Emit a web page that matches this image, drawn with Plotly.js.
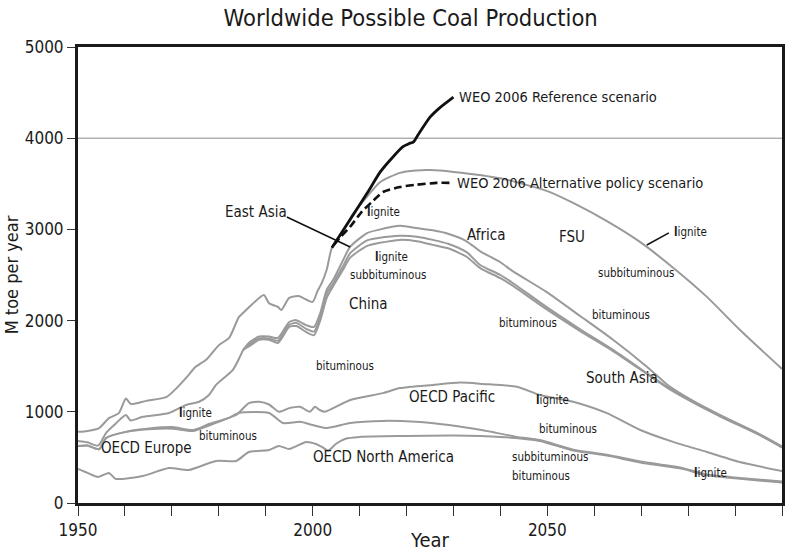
<!DOCTYPE html>
<html>
<head>
<meta charset="utf-8">
<script src="https://cdn.plot.ly/plotly-3.0.1.min.js"></script>
<style>html,body{margin:0;padding:0;background:#fff;}#chart{width:799px;height:552px;}</style>
</head>
<body>
<div id="chart"></div>
<script>
// ---- data (Mtoe per year) ----
const topYears  = [1950,1952,1954.5,1956.6,1958.7,1960.2,1961.3,1964.5,1968.8,1971,1973.5,1975,1977.3,1980,1982.2,1984.3,1985.8,1989.6,1990.7,1992.6,1993.3,1995,1997,2000,2001,2002,2003,2004.1,2006.5,2008.6,2011.6,2014.4,2018.6,2022,2025,2030,2040,2050,2055.5,2062.7,2069.8,2076.8,2084,2091,2100];
const topValues = [780,790,822,930,985,1145,1085,1120,1160,1260,1400,1490,1570,1730,1810,2040,2115,2280,2190,2150,2115,2250,2270,2205,2320,2420,2560,2800,2980,3170,3360,3520,3620,3645,3650,3630,3560,3420,3290,3090,2860,2580,2260,1900,1470];

const refYears  = [2004.1,2006.5,2009.4,2012,2014.4,2017.2,2019.3,2020.5,2021.5,2022.5,2025,2027,2030];
const refValues = [2800,2990,3220,3430,3630,3800,3910,3940,3960,4040,4230,4330,4450];

const altYears  = [2004.5,2006,2008,2010.5,2012.6,2015,2018.6,2022.2,2026.4,2030];
const altValues = [2830,2920,3030,3195,3300,3410,3465,3490,3510,3510];

const histYears  = [1950,1952,1954.3,1956,1958,1960.2,1961.2,1963.8,1969.4,1973,1975.8,1977.9,1979.5,1983,1985.2];
const histValues = [680,665,630,770,870,965,905,945,987,1075,1110,1185,1300,1460,1680];

const eastYears = [1985.2,1986.5,1988.6,1990.7,1992.6,1995,1996.5,1998.6,2000.3,2001.6,2003,2004.4,2006.5,2008,2011.6,2014,2018.6,2022.2,2025.6,2029,2032.8,2035.7,2040,2042.7,2049.8,2057,2064,2071.2,2075.5,2080.4,2087.4,2094.7,2100];
const lig1Values = [1680,1760,1825,1825,1810,1985,2005,1950,1930,2080,2340,2450,2665,2810,2960,2995,3040,3015,2990,2950,2870,2760,2640,2540,2315,2050,1790,1495,1300,1140,950,770,620];
const sub1Values = [1680,1740,1805,1805,1780,1955,1975,1910,1880,2040,2300,2410,2600,2740,2880,2905,2930,2920,2885,2840,2750,2610,2500,2410,2150,1905,1680,1425,1275,1130,945,765,615];
const bit1Values = [1680,1720,1790,1790,1755,1930,1940,1875,1840,2000,2250,2380,2560,2690,2820,2850,2885,2870,2830,2790,2700,2575,2465,2380,2125,1885,1665,1415,1265,1120,935,758,608];

const pacYears  = [1950,1952,1954.5,1956,1960.2,1966,1970.2,1974.5,1977.9,1983.7,1986.4,1988.6,1990.7,1992.8,1995,1997.3,1999.4,2000.5,2001.5,2002.6,2008,2015,2018.6,2025.6,2031.4,2036.3,2043.5,2048.4,2055.5,2062.7,2069.8,2076.8,2084,2091,2100];
const pacValues = [625,630,590,713,780,822,833,800,866,965,1095,1110,1080,1000,1040,1055,1000,1055,1020,1000,1130,1205,1260,1295,1320,1305,1275,1185,1110,985,800,670,560,450,350];

const eurYears  = [1950,1952,1954.5,1956,1960.2,1966,1970.2,1974.5,1977.9,1982,1984.3,1990.7,1993.7,1997.3,2000,2003,2008,2015,2022,2029,2036,2043.5,2048.4,2055.5,2062.7,2069.8,2078.3,2084,2091,2100];
const eurValues = [625,630,590,713,780,812,815,790,850,930,987,987,877,890,855,822,877,900,890,855,800,725,690,585,530,455,390,312,275,235];

const naYears  = [1950,1952,1954.3,1956.6,1958,1963.8,1969.4,1973.6,1979.4,1983.7,1986.4,1990.7,1992.8,1995,1998.6,2000.7,2002,2003.3,2005,2007,2010,2020,2030,2040,2048.4,2055.5,2062.7,2069.8,2078.3,2084,2091,2100];
const naValues = [373,330,285,330,265,296,384,362,461,461,559,581,625,592,669,647,614,575,650,705,725,735,740,725,680,575,520,445,380,303,265,225];

const tickYears = [1950,1960,1970,1980,1990,2000,2010,2020,2030,2040,2050,2060,2070,2080,2090,2100];
const tickText  = ['1950','','','','','2000','','','','','2050','','','','','2100'];

// ---- styling ----
const FONT = "'DejaVu Sans Condensed','Liberation Sans Narrow','Open Sans',sans-serif";
const GRAY = '#9a9a9a';
const TXT = '#1a1a1a';

function grayLine(x, y) {
  return {x: x, y: y, type: 'scatter', mode: 'lines',
          line: {color: GRAY, width: 2, shape: 'spline', smoothing: 0.6}, hoverinfo: 'skip'};
}

const traces = [
  grayLine(naYears, naValues),
  grayLine(eurYears, eurValues),
  grayLine(pacYears, pacValues),
  grayLine(histYears, histValues),
  grayLine(eastYears, bit1Values),
  grayLine(eastYears, sub1Values),
  grayLine(eastYears, lig1Values),
  grayLine(topYears, topValues),
  {x: altYears, y: altValues, type: 'scatter', mode: 'lines',
   line: {color: '#111', width: 2.6, dash: '8px,4px', shape: 'spline', smoothing: 0.6}, hoverinfo: 'skip'},
  {x: refYears, y: refValues, type: 'scatter', mode: 'lines',
   line: {color: '#111', width: 2.8, shape: 'spline', smoothing: 0.5}, hoverinfo: 'skip'}
];

function lab(text, x, y, size, anchor) {
  return {text: text, x: x, y: y, xref: 'x', yref: 'y', showarrow: false,
          xanchor: anchor || 'center', yanchor: 'middle',
          font: {family: FONT, size: size, color: TXT}};
}
const BIG = 15, SMALL = 11.5, WEO = 14.5;
const LIG = '<b>l</b>ignite';
const annotations = [
  lab('WEO 2006 Reference scenario', 2030.8, 4452, WEO, 'left'),
  lab('WEO 2006 Alternative policy scenario', 2030.3, 3509, WEO, 'left'),
  lab('East Asia', 1987.9, 3191, BIG),
  lab('China', 2012.0, 2182, BIG),
  lab('Africa', 2036.9, 2939, BIG),
  lab('FSU', 2055.3, 2917, BIG),
  lab('South Asia', 2065.9, 1371, BIG),
  lab('OECD Pacific', 2029.7, 1162, BIG),
  lab('OECD Europe', 1964.5, 603, BIG),
  lab('OECD North America', 2015.0, 504, BIG),
  lab(LIG, 2015.0, 3191, SMALL),
  lab(LIG, 2016.7, 2697, SMALL),
  lab('subbituminous', 2016.1, 2500, SMALL),
  lab(LIG, 2076.6, 2971, SMALL, 'left'),
  lab('subbituminous', 2068.9, 2522, SMALL),
  lab('bituminous', 2045.9, 1974, SMALL),
  lab('bituminous', 2065.7, 2061, SMALL),
  lab('bituminous', 2006.9, 1502, SMALL),
  lab(LIG, 1975.1, 987, SMALL),
  lab('bituminous', 1982.0, 735, SMALL),
  lab(LIG, 2051.0, 1129, SMALL),
  lab('bituminous', 2054.4, 811, SMALL),
  lab('subbituminous', 2050.6, 504, SMALL),
  lab('bituminous', 2048.7, 296, SMALL),
  lab(LIG, 2084.7, 329, SMALL)
];

const shapes = [
  {type: 'line', xref: 'paper', yref: 'y', x0: 0, x1: 1, y0: 4000, y1: 4000, line: {color: '#8a8a8a', width: 1}, layer: 'below'},
  {type: 'line', xref: 'x', yref: 'y', x0: 1994.5, y0: 3136, x1: 2008, y1: 2807, line: {color: '#111', width: 1.5}},
  {type: 'line', xref: 'x', yref: 'y', x0: 2071.2, y0: 2829, x1: 2075.9, y1: 2961, line: {color: '#111', width: 1.5}}
];

const layout = {
  width: 799, height: 552,
  margin: {l: 78, r: 17, t: 47, b: 49, pad: 0},
  paper_bgcolor: '#fff', plot_bgcolor: '#fff',
  showlegend: false, hovermode: false,
  font: {family: FONT, color: TXT},
  title: {text: 'Worldwide Possible Coal Production', x: 0.514, xanchor: 'center', xref: 'container',
          y: 0.967, yanchor: 'middle', yref: 'container', font: {family: FONT, size: 23.5, color: TXT}},
  xaxis: {range: [1950, 2100], tickvals: tickYears, ticktext: tickText, ticks: 'outside', ticklen: 10, tickwidth: 1,
          tickcolor: '#333', showgrid: false, zeroline: false, showline: true, linecolor: '#1a1a1a', linewidth: 3,
          mirror: true, tickfont: {family: FONT, size: 17, color: TXT},
          title: {text: 'Year', font: {family: FONT, size: 20, color: TXT}, standoff: 2}},
  yaxis: {range: [0, 5000], tickvals: [0,1000,2000,3000,4000,5000], ticks: 'outside', ticklen: 8, tickwidth: 1,
          tickcolor: '#333', showgrid: false, zeroline: false, showline: true, linecolor: '#1a1a1a', linewidth: 3,
          mirror: true, tickfont: {family: FONT, size: 17, color: TXT},
          title: {text: 'M toe per year', font: {family: FONT, size: 18, color: TXT}, standoff: 2}},
  annotations: annotations,
  shapes: shapes
};

Plotly.newPlot('chart', traces, layout, {staticPlot: true, displayModeBar: false});
</script>
</body>
</html>
